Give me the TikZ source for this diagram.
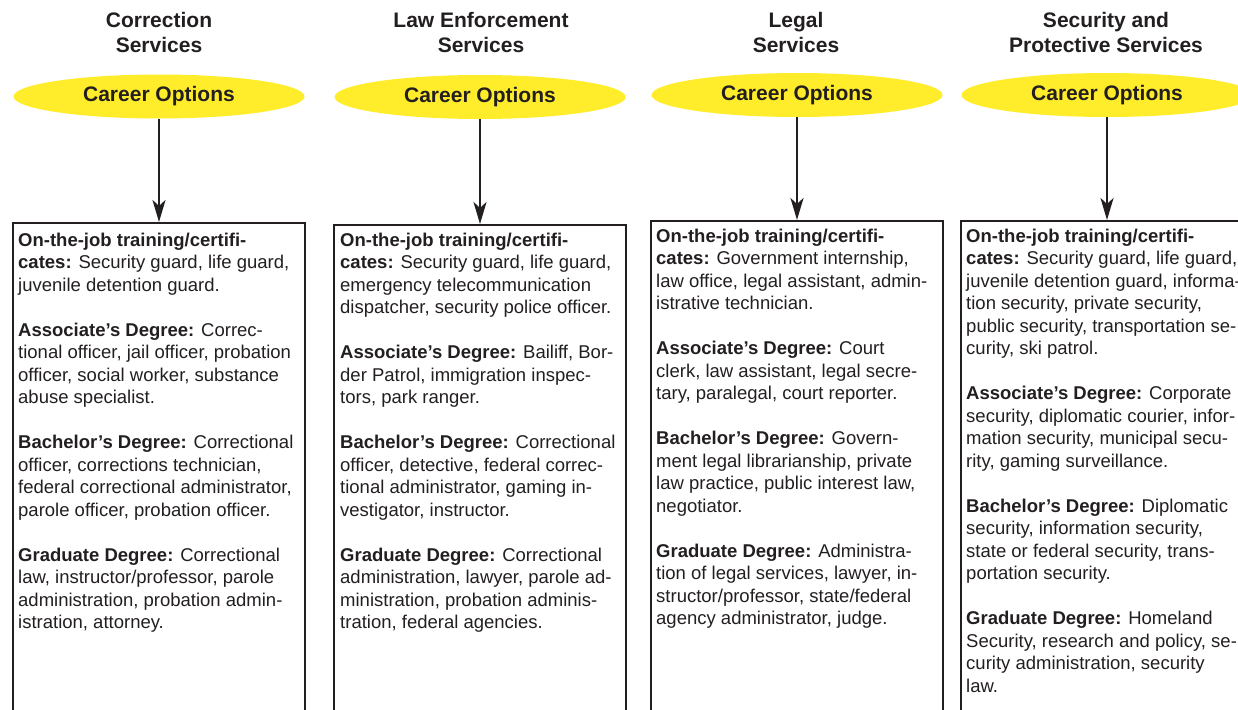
\documentclass[tikz,border=0pt]{standalone}
\usepackage{fontspec}
\setmainfont{Liberation Sans}
\usetikzlibrary{arrows.meta,shapes.geometric}
\definecolor{ink}{HTML}{231F20}
\definecolor{capyellow}{RGB}{255,237,43}
\begin{document}
\begin{tikzpicture}[x=1pt,y=-1pt,
  title/.style={font=\fontsize{21}{25}\selectfont\bfseries, align=center, text=ink, inner sep=0},
  optell/.style={ellipse, fill=capyellow, minimum width=291pt, minimum height=44pt, inner sep=0, font=\fontsize{21}{25}\selectfont\bfseries, text=ink},
  colbox/.style={draw=ink, line width=2.2pt, minimum width=292pt, minimum height=520pt, anchor=north west, inner sep=0},
  body/.style={anchor=north west, align=left, inner sep=0, text=ink, font=\fontsize{18.5}{22.5}\selectfont},
  flow/.style={draw=ink, line width=2.6pt, -{Stealth[length=22pt,width=13pt,inset=6pt]}}
]
\useasboundingbox (0,0) rectangle (1238,709);
\clip (0,0) rectangle (1238,709);
\fill[white] (0,0) rectangle (1238,709);

% titles
\node[title] (h1) at (159,32.5) {Correction\\Services};
\node[title] (h2) at (481,32.5) {Law Enforcement\\Services};
\node[title] (h3) at (796,32) {Legal\\Services};
\node[title] (h4) at (1106,32) {Security and\\Protective Services};

% ellipses
\node[optell] (e1) at (159,96.5) {Career Options};
\node[optell] (e2) at (480,97) {Career Options};
\node[optell] (e3) at (797,95) {Career Options};
\node[optell] (e4) at (1107,95) {Career Options};

% boxes
\node[colbox] (b1) at (12,222) {};
\node[colbox] (b2) at (333,224) {};
\node[colbox] (b3) at (650,220) {};
\node[colbox] (b4) at (960,220) {};

% arrows
\draw[flow] (e1.south) -- (e1.south |- b1.north);
\draw[flow] (e2.south) -- (e2.south |- b2.north);
\draw[flow] (e3.south) -- (e3.south |- b3.north);
\draw[flow] (e4.south) -- (e4.south |- b4.north);

% body texts
\node[body] (t1) at (18,230.25) {\strut\textbf{On-the-job training/certifi-}\\
\textbf{cates:} Security guard, life guard,\\
juvenile detention guard.\\[22.5pt]
\textbf{Associate’s Degree:} Correc-\\
tional officer, jail officer, probation\\
officer, social worker, substance\\
abuse specialist.\\[22.5pt]
\textbf{Bachelor’s Degree:} Correctional\\
officer, corrections technician,\\
federal correctional administrator,\\
parole officer, probation officer.\\[22.5pt]
\textbf{Graduate Degree:} Correctional\\
law, instructor/professor, parole\\
administration, probation admin-\\
istration, attorney.};

\node[body] (t2) at (340,230.25) {\strut\textbf{On-the-job training/certifi-}\\
\textbf{cates:} Security guard, life guard,\\
emergency telecommunication\\
dispatcher, security police officer.\\[22.5pt]
\textbf{Associate’s Degree:} Bailiff, Bor-\\
der Patrol, immigration inspec-\\
tors, park ranger.\\[22.5pt]
\textbf{Bachelor’s Degree:} Correctional\\
officer, detective, federal correc-\\
tional administrator, gaming in-\\
vestigator, instructor.\\[22.5pt]
\textbf{Graduate Degree:} Correctional\\
administration, lawyer, parole ad-\\
ministration, probation adminis-\\
tration, federal agencies.};

\node[body] (t3) at (656,226.25) {\strut\textbf{On-the-job training/certifi-}\\
\textbf{cates:} Government internship,\\
law office, legal assistant, admin-\\
istrative technician.\\[22.5pt]
\textbf{Associate’s Degree:} Court\\
clerk, law assistant, legal secre-\\
tary, paralegal, court reporter.\\[22.5pt]
\textbf{Bachelor’s Degree:} Govern-\\
ment legal librarianship, private\\
law practice, public interest law,\\
negotiator.\\[22.5pt]
\textbf{Graduate Degree:} Administra-\\
tion of legal services, lawyer, in-\\
structor/professor, state/federal\\
agency administrator, judge.};

\node[body] (t4) at (966,226.25) {\strut\textbf{On-the-job training/certifi-}\\
\textbf{cates:} Security guard, life guard,\\
juvenile detention guard, informa-\\
tion security, private security,\\
public security, transportation se-\\
curity, ski patrol.\\[22.5pt]
\textbf{Associate’s Degree:} Corporate\\
security, diplomatic courier, infor-\\
mation security, municipal secu-\\
rity, gaming surveillance.\\[22.5pt]
\textbf{Bachelor’s Degree:} Diplomatic\\
security, information security,\\
state or federal security, trans-\\
portation security.\\[22.5pt]
\textbf{Graduate Degree:} Homeland\\
Security, research and policy, se-\\
curity administration, security\\
law.};
\end{tikzpicture}
\end{document}
